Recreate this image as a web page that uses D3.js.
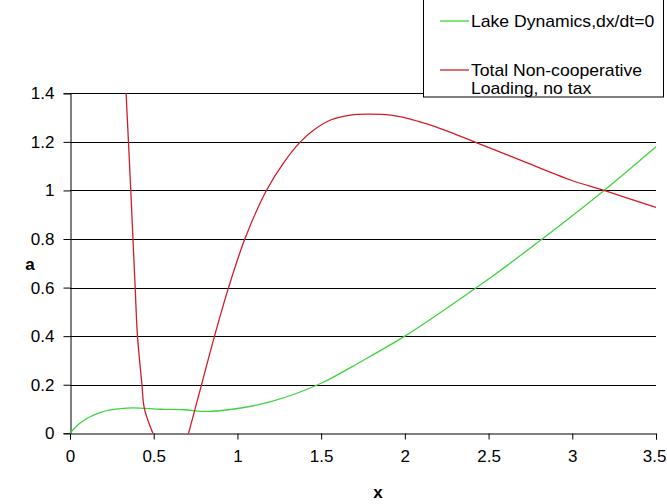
<!DOCTYPE html>
<html>
<head>
<meta charset="utf-8">
<script src="https://cdn.jsdelivr.net/npm/d3@7"></script>
<style>
  body { margin: 0; background: #fff; }
  svg { display: block; font-family: "Liberation Sans", Arial, sans-serif; }
</style>
</head>
<body>
<div id="chart"></div>
<script>
// series
const lakeX = [0, 0.06, 0.12, 0.18, 0.24, 0.34, 0.42, 0.54, 0.68, 0.82, 0.98, 1.2, 1.5, 1.75, 2.0, 2.25, 2.5, 2.82, 3.19, 3.5];
const lakeA = [0, 0.042, 0.068, 0.085, 0.096, 0.104, 0.104, 0.099, 0.097, 0.09, 0.1, 0.13, 0.206, 0.30, 0.40, 0.515, 0.635, 0.80, 1.0, 1.18];

const loadLeftX = [0.335, 0.363, 0.379, 0.389, 0.403, 0.429, 0.444, 0.495];
const loadLeftA = [1.4, 1.0, 0.755, 0.604, 0.4, 0.206, 0.103, 0];

const loadRightX = [0.708, 0.788, 0.857, 0.947, 1.047, 1.173, 1.277, 1.376, 1.456, 1.556, 1.676, 1.776, 1.915, 2.015, 2.1, 2.2, 2.3, 2.43, 2.69, 2.99, 3.19, 3.5];
const loadRightA = [0, 0.206, 0.385, 0.60, 0.805, 1.0, 1.115, 1.2, 1.249, 1.29, 1.31, 1.314, 1.31, 1.297, 1.28, 1.258, 1.232, 1.196, 1.125, 1.043, 1.0, 0.93];

const xTicks = [0, 0.5, 1, 1.5, 2, 2.5, 3, 3.5];
const yTicks = [0, 0.2, 0.4, 0.6, 0.8, 1, 1.2, 1.4];

const legendLabels = [["Lake Dynamics,dx/dt=0"], ["Total Non-cooperative", "Loading, no tax"]];

const width = 667, height = 504;
const green = "#3fd43f", red = "#d21c2a";

let svg = d3.select("#chart").append("svg")
    .attr("width", width)
    .attr("height", height);

let xScale = d3.scaleLinear().domain([0, 3.5]).range([70, 656]);
let yScale = d3.scaleLinear().domain([0, 1.4]).range([433.3, 93.3]);

// gridlines
svg.append("g").selectAll("line")
    .data(yTicks.filter(d => d > 0))
    .enter()
    .append("line")
    .attr("x1", xScale(0))
    .attr("x2", xScale(3.5))
    .attr("y1", d => Math.round(yScale(d)) + 0.5)
    .attr("y2", d => Math.round(yScale(d)) + 0.5)
    .attr("stroke", "#000")
    .attr("stroke-width", 1);

// axes
let xAxis = d3.axisBottom(xScale).tickValues(xTicks).tickSize(6).tickPadding(10)
    .tickFormat(d => d3.format("")(d));
let yAxis = d3.axisLeft(yScale).tickValues(yTicks).tickSize(7).tickPadding(9)
    .tickFormat(d => d3.format("")(d));

let gx = svg.append("g")
    .attr("transform", `translate(0, ${Math.round(yScale(0)) + 0.5})`)
    .call(xAxis);
let gy = svg.append("g")
    .attr("transform", `translate(${Math.round(xScale(0)) + 0.5}, 0)`)
    .call(yAxis);

[gx, gy].forEach(g => {
    g.select(".domain").attr("stroke", "#000");
    g.selectAll(".tick line").attr("stroke", "#000");
    g.selectAll(".tick text")
        .attr("fill", "#000")
        .attr("font-size", "17px")
        .attr("font-family", "Liberation Sans, Arial, sans-serif");
});

// last x label sits right at the window edge, keep it inside
gx.selectAll(".tick text")
    .filter(d => d === 3.5)
    .attr("text-anchor", "end")
    .attr("dx", "10px");

// lines
let line = d3.line()
    .x(d => xScale(d[0]))
    .y(d => yScale(d[1]))
    .curve(d3.curveCatmullRom.alpha(0.5));

let lakeData = lakeX.map((x, i) => [x, lakeA[i]]);
let leftData = loadLeftX.map((x, i) => [x, loadLeftA[i]]);
let rightData = loadRightX.map((x, i) => [x, loadRightA[i]]);

svg.append("path")
    .attr("d", line(lakeData))
    .attr("fill", "none")
    .attr("stroke", green)
    .attr("stroke-width", 1.3);

[leftData, rightData].forEach(data => {
    svg.append("path")
        .attr("d", line(data))
        .attr("fill", "none")
        .attr("stroke", red)
        .attr("stroke-width", 1.3);
});

// axis titles
svg.append("text")
    .attr("x", 378)
    .attr("y", 498)
    .attr("text-anchor", "middle")
    .attr("font-size", "17px")
    .attr("font-weight", "bold")
    .text("x");

svg.append("text")
    .attr("x", 30)
    .attr("y", 270)
    .attr("text-anchor", "middle")
    .attr("font-size", "17px")
    .attr("font-weight", "bold")
    .text("a");

// legend
let legend = svg.append("g");
legend.append("rect")
    .attr("x", 423.5)
    .attr("y", -1)
    .attr("width", 240)
    .attr("height", 98)
    .attr("fill", "#fff")
    .attr("stroke", "#000");

let legendColors = [green, red];
let legendTop = [21, 70];
legendLabels.forEach((lines, i) => {
    legend.append("line")
        .attr("x1", 440)
        .attr("x2", 469)
        .attr("y1", legendTop[i])
        .attr("y2", legendTop[i])
        .attr("stroke", legendColors[i])
        .attr("stroke-width", 1.3);
    lines.forEach((t, j) => {
        // the original glyphs are a little stretched sideways
        legend.append("text")
            .attr("transform", `translate(471, ${legendTop[i] + 6 + j * 18}) scale(1.1, 1)`)
            .attr("font-size", "16px")
            .attr("fill", "#000")
            .text(t);
    });
});
</script>
</body>
</html>
